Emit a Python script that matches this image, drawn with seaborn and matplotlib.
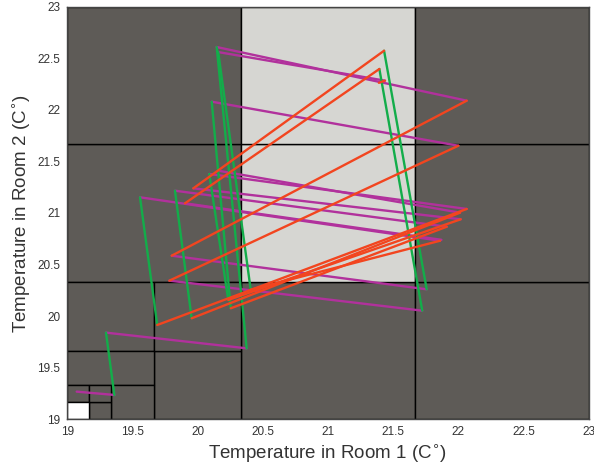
import pandas as pd
import matplotlib
matplotlib.use("Agg")
import matplotlib.pyplot as plt
from matplotlib.patches import Rectangle
import seaborn as sns

sns.set_style("white")
plt.rcParams['font.family'] = ['Liberation Sans', 'DejaVu Sans']

# partition cells: x0, y0, width, height, fill
big, mid, small, tiny = 4 / 3, 2 / 3, 1 / 3, 1 / 6
cell_x0 = [19 + big, 19 + 2 * big, 19, 19 + big, 19 + 2 * big, 19, 19 + big, 19 + 2 * big,
           19 + mid, 19, 19 + mid, 19, 19 + small, 19 + tiny, 19, 19 + tiny, 19]
cell_y0 = [19, 19, 19 + big, 19 + big, 19 + big, 19 + 2 * big, 19 + 2 * big, 19 + 2 * big,
           19, 19 + mid, 19 + mid, 19 + small, 19, 19, 19 + tiny, 19 + tiny, 19]
cell_w = [big] * 8 + [mid, mid, mid, mid, small, tiny, tiny, tiny, tiny]
cell_h = [big] * 8 + [mid, mid, mid, small, small, tiny, tiny, tiny, tiny]
cell_fill = ['dark', 'dark', 'dark', 'light', 'dark', 'dark', 'light', 'dark',
             'dark', 'dark', 'dark', 'dark', 'dark', 'dark', 'dark', 'dark', 'white']

# trajectory segments (start x, start y, end x, end y)
mag_x0 = [19.072, 19.297, 20.146, 20.158, 20.108, 19.801, 19.783, 19.967, 19.558, 19.826, 20.089, 20.158, 19.903]
mag_y0 = [19.268, 19.840, 22.609, 22.560, 22.079, 20.586, 20.344, 21.239, 21.152, 21.216, 21.378, 21.410, 21.094]
mag_x1 = [19.361, 20.376, 22.064, 21.437, 22.000, 21.757, 21.723, 22.018, 21.860, 21.911, 22.064, 22.013, 21.870]
mag_y1 = [19.236, 19.688, 22.089, 22.283, 21.652, 20.260, 20.053, 20.939, 20.731, 20.867, 21.039, 21.003, 20.740]

grn_x0 = [19.361, 20.376, 21.757, 21.723, 19.690, 19.954, 20.235, 20.254, 20.407]
grn_y0 = [19.236, 19.688, 20.260, 20.053, 19.914, 19.979, 20.157, 20.076, 20.256]
grn_x1 = [19.297, 20.146, 21.430, 21.394, 19.558, 19.826, 20.089, 20.108, 20.158]
grn_y1 = [19.840, 22.609, 22.573, 22.396, 21.152, 21.216, 21.378, 22.079, 22.560]

org_x0 = [22.064, 22.000, 21.430, 21.394, 22.064, 22.013, 22.018, 21.911, 21.860, 21.437]
org_y0 = [22.089, 21.652, 22.573, 22.396, 21.039, 21.003, 20.939, 20.867, 20.731, 22.283]
org_x1 = [19.801, 19.783, 19.967, 19.903, 19.690, 19.954, 20.235, 20.254, 20.407, 21.390]
org_y1 = [20.586, 20.344, 21.239, 21.094, 19.914, 19.979, 20.157, 20.076, 20.256, 22.262]

fill_colors = {'dark': '#5e5b57', 'light': '#d6d6d2', 'white': '#ffffff'}
line_colors = {'magenta': '#b1319c', 'green': '#13ad4a', 'orange': '#f2451f'}

rows = []
for name, xs0, ys0, xs1, ys1 in [('magenta', mag_x0, mag_y0, mag_x1, mag_y1),
                                 ('green', grn_x0, grn_y0, grn_x1, grn_y1),
                                 ('orange', org_x0, org_y0, org_x1, org_y1)]:
    for i in range(len(xs0)):
        seg = name + str(i)
        rows.append({'x': xs0[i], 'y': ys0[i], 'seg': seg, 'mode': name})
        rows.append({'x': xs1[i], 'y': ys1[i], 'seg': seg, 'mode': name})
df = pd.DataFrame(rows)

fig = plt.figure(figsize=(5.94, 4.68), dpi=100)
ax = fig.add_axes([0.1133, 0.1041, 0.8778, 0.8816])

for x0, y0, w, h, f in zip(cell_x0, cell_y0, cell_w, cell_h, cell_fill):
    ax.add_patch(Rectangle((x0, y0), w, h, facecolor=fill_colors[f],
                           edgecolor='black', linewidth=1.0, zorder=1))

sns.lineplot(data=df, x='x', y='y', units='seg', estimator=None, sort=False,
             hue='mode', palette=line_colors, linewidth=1.7, legend=False, ax=ax, zorder=3)

ax.set_xlim(19, 23)
ax.set_ylim(19, 23)
ticks = [19, 19.5, 20, 20.5, 21, 21.5, 22, 22.5, 23]
tick_labels = ['19', '19.5', '20', '20.5', '21', '21.5', '22', '22.5', '23']
ax.set_xticks(ticks)
ax.set_xticklabels(tick_labels)
ax.set_yticks(ticks)
ax.set_yticklabels(tick_labels)
ax.tick_params(length=0, labelsize=8.5, colors='#333333', pad=5)
for s in ax.spines.values():
    s.set_color('#444444')
    s.set_linewidth(1.0)

ax.set_xlabel('Temperature in Room 1 (C$^{\\circ}$)', fontsize=13.5, color='#333333', labelpad=3)
ax.set_ylabel('Temperature in Room 2 (C$^{\\circ}$)', fontsize=13.5, color='#333333', labelpad=4)

plt.savefig("out.png", dpi=100)
plt.close('all')
